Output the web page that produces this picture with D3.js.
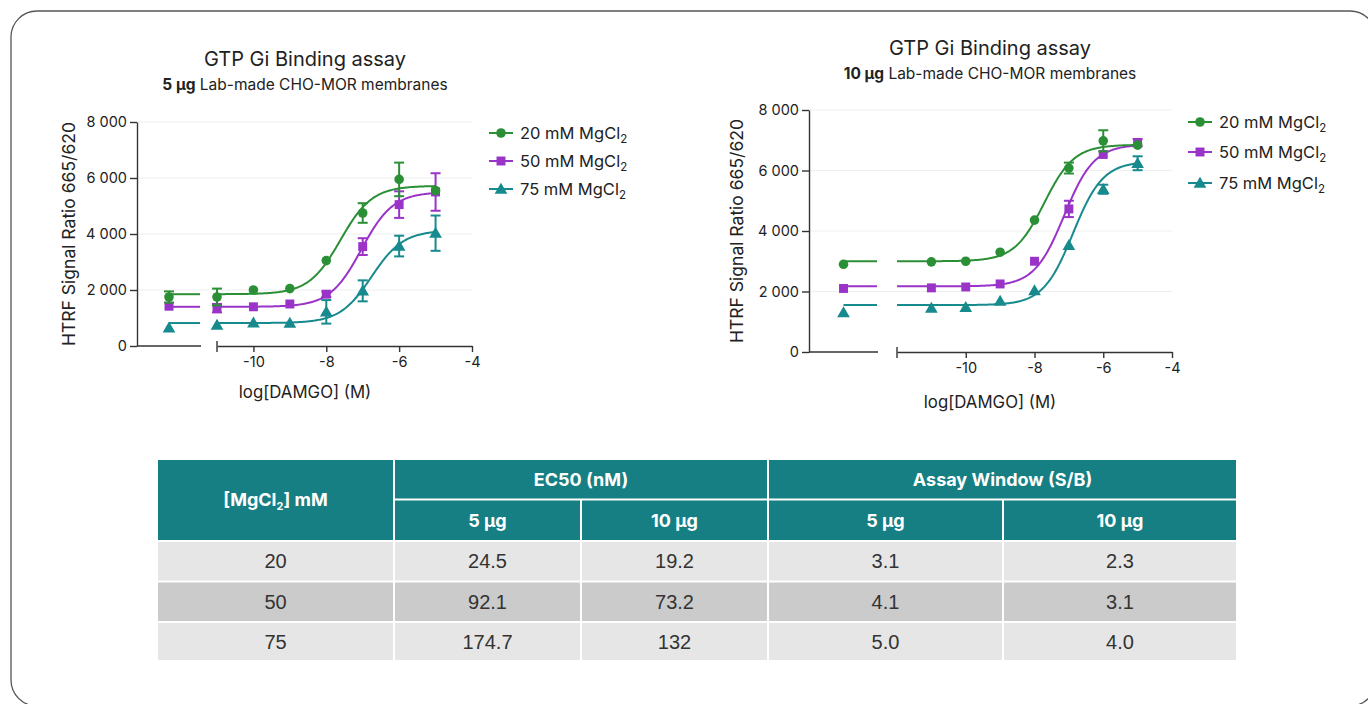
<!DOCTYPE html>
<html><head><meta charset="utf-8">
<script src="https://cdn.jsdelivr.net/npm/d3@7"></script>
<style>body{margin:0;background:#fff}svg{display:block}</style>
</head><body>
<svg id="c" width="1368" height="704"></svg>
<script>
// ---------- DATA ----------
const logDAMGO = [-11, -10, -9, -8, -7, -6, -5];
const mgcl2 = ["20", "50", "75"];
const yTicks = [0, 2000, 4000, 6000, 8000];
const xTicks = [-10, -8, -6, -4];

// 5 µg membranes
const ctrl5 = [1750, 1420, 650];
const ctrlErr5 = [200, 0, 0];
const mean5_20 = [1750, 2000, 2050, 3050, 4750, 5950, 5550];
const err5_20 = [300, 0, 0, 0, 350, 600, 0];
const mean5_50 = [1350, 1400, 1500, 1850, 3550, 5050, 5500];
const err5_50 = [150, 0, 0, 100, 300, 475, 670];
const mean5_75 = [750, 830, 820, 1220, 1970, 3570, 4030];
const err5_75 = [0, 0, 0, 420, 375, 370, 630];
const bottom5 = [1850, 1400, 820];
const top5 = [5720, 5500, 4130];
const ec50_5 = [24.5, 92.1, 174.7];   // nM
const hill5 = [1, 1, 1];

// 10 µg membranes
const ctrl10 = [2900, 2100, 1300];
const ctrlErr10 = [0, 0, 0];
const mean10_20 = [2980, 3000, 3300, 4360, 6080, 6980, 6840];
const err10_20 = [0, 0, 0, 0, 180, 350, 0];
const mean10_50 = [2120, 2150, 2250, 3000, 4730, 6530, 6920];
const err10_50 = [0, 0, 0, 0, 270, 0, 120];
const mean10_75 = [1450, 1480, 1680, 2030, 3530, 5380, 6240];
const err10_75 = [0, 0, 0, 0, 0, 150, 230];
const bottom10 = [3000, 2170, 1550];
const top10 = [6850, 6860, 6300];
const ec50_10 = [19.2, 73.2, 132];    // nM
const hill10 = [1, 1, 1];

// table
const tableHead = ["[MgCl2] mM", "EC50 (nM)", "Assay Window (S/B)"];
const subHead = ["5 µg", "10 µg", "5 µg", "10 µg"];
const ec50Tbl5 = ["24.5", "92.1", "174.7"];
const ec50Tbl10 = ["19.2", "73.2", "132"];
const sbTbl5 = ["3.1", "4.1", "5.0"];
const sbTbl10 = ["2.3", "3.1", "4.0"];

// ---------- DRAW ----------
const svg = d3.select("#c");
const FONT = "Inter, 'Open Sans', sans-serif";
const colors = ["#2b8f36", "#9a34c8", "#178a8e"];
const symbols = [d3.symbolCircle, d3.symbolSquare, d3.symbolTriangle];
const symSizes = [72, 80, 70];
const fmt = d3.formatLocale({decimal: ".", thousands: " ", grouping: [3], currency: ["", ""]}).format(",");

svg.append("rect").attr("x", 11).attr("y", 11).attr("width", 1365).attr("height", 695)
  .attr("rx", 26).attr("fill", "#fff").attr("stroke", "#555").attr("stroke-width", 1.3);

function panel(o) {
  const g = svg.append("g").attr("font-family", FONT);
  const y = d3.scaleLinear().domain([0, 8000]).range([o.yBot, o.yTop]);
  const xc = d3.scalePoint().domain(["ctrl"]).range([o.axisX, o.seg1End]);
  const x = d3.scaleLinear().domain(o.dom).range([o.seg2Start, o.seg2End]);

  // titles
  g.append("text").attr("x", o.titleX).attr("y", o.titleY).attr("text-anchor", "middle")
    .attr("font-size", 20).attr("fill", "#222").text("GTP Gi Binding assay");
  const st = g.append("text").attr("x", o.titleX).attr("y", o.titleY + 24).attr("text-anchor", "middle")
    .attr("font-size", 15.5).attr("fill", "#222");
  st.append("tspan").attr("font-weight", 700).text(o.amount);
  st.append("tspan").text(" Lab-made CHO-MOR membranes");

  // gridlines
  g.append("g").selectAll("line").data(yTicks.filter(d => d > 0)).join("line")
    .attr("x1", o.axisX).attr("x2", o.seg2End).attr("y1", d => y(d)).attr("y2", d => y(d))
    .attr("stroke", "#efefef").attr("stroke-width", 1);

  // y axis
  const ya = g.append("g").attr("transform", `translate(${o.axisX},0)`)
    .call(d3.axisLeft(y).tickValues(yTicks).tickSize(7).tickSizeOuter(0).tickFormat(fmt).tickPadding(3));
  ya.select(".domain").attr("stroke", "#333").attr("stroke-width", 1.4);
  ya.selectAll(".tick line").attr("stroke", "#333").attr("stroke-width", 1.4);
  ya.selectAll(".tick text").attr("font-family", FONT).attr("font-size", 14.5).attr("fill", "#222");

  // x axis seg1
  g.append("line").attr("x1", o.axisX).attr("x2", o.seg1End).attr("y1", o.yBot).attr("y2", o.yBot)
    .attr("stroke", "#333").attr("stroke-width", 1.4);
  // x axis seg2
  const xa = g.append("g").attr("transform", `translate(0,${o.yBot})`)
    .call(d3.axisBottom(x).tickValues(xTicks).tickSize(6).tickSizeOuter(0).tickPadding(5)
      .tickFormat(d => String(d)));
  xa.select(".domain").attr("stroke", "#333").attr("stroke-width", 1.4);
  xa.selectAll(".tick line").attr("stroke", "#333").attr("stroke-width", 1.4);
  xa.selectAll(".tick text").attr("font-family", FONT).attr("font-size", 14.5).attr("fill", "#222");
  g.append("line").attr("x1", x(o.dom[0])).attr("x2", x(o.dom[0]))
    .attr("y1", o.yBot - 5).attr("y2", o.yBot + 6).attr("stroke", "#333").attr("stroke-width", 1.4);

  // axis labels
  g.append("text").attr("x", o.xlabX).attr("y", o.xlabY).attr("text-anchor", "middle")
    .attr("font-size", 16.8).attr("fill", "#222").text("log[DAMGO] (M)");
  g.append("text").attr("transform", `translate(${o.ylabX},${(o.yTop + o.yBot) / 2}) rotate(-90)`)
    .attr("text-anchor", "middle").attr("font-size", 17.5).attr("fill", "#222").text("HTRF Signal Ratio 665/620");

  const order = [2, 1, 0];
  // curves
  order.forEach(i => {
    const b = o.bottom[i], t = o.top[i], le = Math.log10(o.ec50[i] * 1e-9), h = o.hill[i];
    const f = v => b + (t - b) / (1 + Math.pow(10, (le - v) * h));
    const xs = d3.range(0, 201).map(k => o.dom[0] + (-5 - o.dom[0]) * k / 200);
    g.append("path").datum(xs)
      .attr("d", d3.line().x(v => x(v)).y(v => y(f(v))))
      .attr("fill", "none").attr("stroke", colors[i]).attr("stroke-width", 2);
    g.append("line").attr("x1", xc("ctrl")).attr("x2", o.seg1End - 1)
      .attr("y1", y(b)).attr("y2", y(b)).attr("stroke", colors[i]).attr("stroke-width", 2);
  });
  // error bars + markers
  order.forEach(i => {
    const pts = logDAMGO.map((v, k) => ({px: x(v), m: o.means[i][k], e: o.errs[i][k]}));
    pts.push({px: xc("ctrl"), m: o.ctrl[i], e: o.ctrlErr[i]});
    const eb = g.append("g").attr("stroke", colors[i]).attr("stroke-width", 2);
    pts.filter(p => p.e > 0).forEach(p => {
      eb.append("line").attr("x1", p.px).attr("x2", p.px).attr("y1", y(p.m - p.e)).attr("y2", y(p.m + p.e));
      [p.m - p.e, p.m + p.e].forEach(v => eb.append("line").attr("x1", p.px - 5).attr("x2", p.px + 5)
        .attr("y1", y(v)).attr("y2", y(v)));
    });
    g.append("g").selectAll("path").data(pts).join("path")
      .attr("transform", p => `translate(${p.px},${y(p.m) + (i === 2 ? 1 : 0)})`)
      .attr("d", d3.symbol().type(symbols[i]).size(symSizes[i]))
      .attr("fill", colors[i]);
  });

  // legend
  mgcl2.forEach((m, i) => {
    const ly = o.legY[i];
    g.append("line").attr("x1", o.legX - 12).attr("x2", o.legX + 12).attr("y1", ly).attr("y2", ly)
      .attr("stroke", colors[i]).attr("stroke-width", 2);
    g.append("path").attr("transform", `translate(${o.legX},${ly + (i === 2 ? 1 : 0)})`)
      .attr("d", d3.symbol().type(symbols[i]).size(symSizes[i])).attr("fill", colors[i]);
    const tx = g.append("text").attr("x", o.legX + 19).attr("y", ly + 5.5).attr("font-size", 16.5).attr("fill", "#222");
    tx.append("tspan").text(`${m} mM MgCl`);
    tx.append("tspan").attr("font-size", 11.5).attr("dy", 4).text("2");
  });
}

panel({
  amount: "5 µg", axisX: 137, yTop: 122, yBot: 346, seg1End: 201, seg2Start: 217, seg2End: 472,
  dom: [-11, -4], titleX: 305, titleY: 66, xlabX: 305, xlabY: 398, ylabX: 75,
  legX: 501, legY: [133, 161, 189],
  means: [mean5_20, mean5_50, mean5_75], errs: [err5_20, err5_50, err5_75],
  ctrl: ctrl5, ctrlErr: ctrlErr5, bottom: bottom5, top: top5, ec50: ec50_5, hill: hill5
});
panel({
  amount: "10 µg", axisX: 809, yTop: 110, yBot: 352, seg1End: 878, seg2Start: 897, seg2End: 1172,
  dom: [-12, -4], titleX: 990, titleY: 55, xlabX: 990, xlabY: 408, ylabX: 743,
  legX: 1200, legY: [122, 152, 183],
  means: [mean10_20, mean10_50, mean10_75], errs: [err10_20, err10_50, err10_75],
  ctrl: ctrl10, ctrlErr: ctrlErr10, bottom: bottom10, top: top10, ec50: ec50_10, hill: hill10
});

// ---------- TABLE ----------
const T = svg.append("g");
const colX = [157, 394, 581, 768, 1003, 1237];
const rowY = [459, 499.5, 541, 581.5, 622, 661];
const teal = "#167f83";
const rowFill = ["#e6e6e6", "#cbcbcb", "#e6e6e6"];
const G = 1; // half gap
function cell(x0, x1, y0, y1, fill) {
  T.append("rect").attr("x", x0 + G).attr("y", y0 + G).attr("width", x1 - x0 - 2 * G).attr("height", y1 - y0 - 2 * G).attr("fill", fill);
}
function txt(x, y, s, opt) {
  return T.append("text").attr("x", x).attr("y", y).attr("text-anchor", "middle")
    .attr("font-family", opt.font).attr("font-size", opt.size).attr("font-weight", opt.w)
    .attr("fill", opt.fill).text(s);
}
const HF = {font: FONT, size: 18, w: 700, fill: "#fff"};
// header
cell(colX[0], colX[1], rowY[0], rowY[2], teal);
cell(colX[1], colX[3], rowY[0], rowY[1], teal);
cell(colX[3], colX[5], rowY[0], rowY[1], teal);
for (let c = 1; c < 5; c++) cell(colX[c], colX[c + 1], rowY[1], rowY[2], teal);
const h0 = T.append("text").attr("x", (colX[0] + colX[1]) / 2).attr("y", (rowY[0] + rowY[2]) / 2 + 6)
  .attr("text-anchor", "middle").attr("font-family", FONT).attr("font-size", 18).attr("font-weight", 700).attr("fill", "#fff");
h0.append("tspan").text("[MgCl");
h0.append("tspan").attr("font-size", 11).attr("dy", 4).text("2");
h0.append("tspan").attr("dy", -4).text("] mM");
txt((colX[1] + colX[3]) / 2, (rowY[0] + rowY[1]) / 2 + 6.5, tableHead[1], HF);
txt((colX[3] + colX[5]) / 2, (rowY[0] + rowY[1]) / 2 + 6.5, tableHead[2], HF);
subHead.forEach((s, c) => txt((colX[c + 1] + colX[c + 2]) / 2, (rowY[1] + rowY[2]) / 2 + 6.5, s, HF));
// body
const DF = {font: "'Liberation Sans', Arial, sans-serif", size: 20, w: 400, fill: "#333"};
mgcl2.forEach((m, r) => {
  const vals = [m, ec50Tbl5[r], ec50Tbl10[r], sbTbl5[r], sbTbl10[r]];
  vals.forEach((v, c) => {
    cell(colX[c], colX[c + 1], rowY[r + 2], rowY[r + 3], rowFill[r]);
    txt((colX[c] + colX[c + 1]) / 2, (rowY[r + 2] + rowY[r + 3]) / 2 + 7, v, DF);
  });
});
</script>
</body></html>
